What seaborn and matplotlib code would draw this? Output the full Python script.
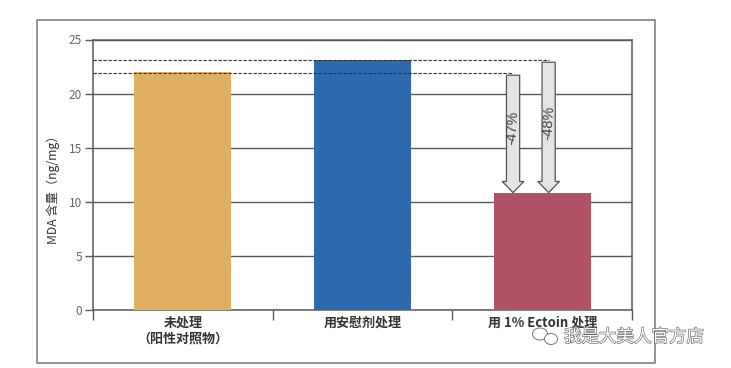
import matplotlib
matplotlib.use("Agg")
import matplotlib.pyplot as plt
import matplotlib.patheffects as pe
from matplotlib.patches import Rectangle, Ellipse
import pandas as pd
import seaborn as sns

# === DATA ===
categories = ["未处理\n（阳性对照物）", "用安慰剂处理", "用 1% Ectoin 处理"]
mda_values = [22.0, 23.15, 10.85]
bar_colors = ["#E0B062", "#2D69AF", "#B05263"]
y_ticks = [0, 5, 10, 15, 20, 25]
arrow_labels = ["-47%", "-48%"]
arrow_from = [21.7, 22.9]
arrow_x = [1.838, 2.036]
arrow_text_y = [16.8, 17.3]
dash_levels = [21.9, 23.1]
dash_ends = [1.84, 2.04]

sns.set_style("white")
plt.rcParams['font.family'] = ['Noto Sans CJK SC', 'DejaVu Sans']
GRAY = "#5a5a5a"

fig = plt.figure(figsize=(7.31, 3.68), dpi=100)
ax = fig.add_axes([93/731, 1 - 310/368, 539/731, 270.5/368])

df = pd.DataFrame({"cat": categories, "mda": mda_values})
sns.barplot(data=df, x="cat", y="mda", hue="cat", palette=bar_colors, legend=False,
            width=0.54, saturation=1, edgecolor="none", linewidth=0, ax=ax, zorder=3)

ax.set_xlim(-0.5, 2.5)
ax.set_ylim(0, 25)
ax.set_xlabel("")
ax.set_ylabel("")
fig.text(53/731, 1 - 187/368, "MDA 含量（ng/mg）", rotation=90, fontsize=8.8, color="#333333",
         ha='center', va='center')

# grid behind the bars
ax.set_yticks(y_ticks)
ax.grid(axis='y', color=GRAY, lw=1.0, zorder=1)
ax.set_axisbelow(True)
ax.tick_params(axis='y', left=True, length=6, width=1.0, color=GRAY, labelsize=8.5, labelcolor="#666666", pad=2)

# separators as major ticks, names on minor ticks
ax.set_xticks([-0.5, 0.5, 1.5, 2.5], labels=[])
ax.set_xticks([0, 1, 2], labels=categories, minor=True)
ax.tick_params(axis='x', which='major', bottom=True, length=7, width=1.0, color=GRAY)
ax.tick_params(axis='x', which='minor', bottom=False, labelsize=9.4, labelcolor="#333333", pad=2)
for lab in ax.get_xticklabels(minor=True):
    lab.set_fontweight('bold')
    lab.set_linespacing(1.2)

for s in ax.spines.values():
    s.set_visible(True)
    s.set_color(GRAY)
    s.set_linewidth(1.1)

# dashed reference levels
for lev, end in zip(dash_levels, dash_ends):
    ax.plot([-0.5, end], [lev, lev], color="#333333", lw=0.8, ls=(0, (3, 1.5)), zorder=4)

# reduction arrows
for x, start, ty, lab in zip(arrow_x, arrow_from, arrow_text_y, arrow_labels):
    ax.annotate("", xy=(x, mda_values[2]), xytext=(x, start), zorder=5,
                arrowprops=dict(width=9.5, headwidth=15.5, headlength=8, shrink=0,
                                facecolor="#E4E4E4", edgecolor="#555555", lw=0.9))
    ax.text(x, ty, lab, rotation=86, ha='center', va='center', fontsize=10.5,
            family='Liberation Sans', color="#444444", zorder=6)

# outer frame
fig.add_artist(Rectangle((36.5/731, 1 - 363/368), 618.5/731, 343/368, fill=False,
                         edgecolor="#777777", lw=1.1, transform=fig.transFigure))

# watermark
fig.text(564/731, 1 - 337/368, "我是大美人官方店", fontsize=12.6, color="white", va='center',
         path_effects=[pe.withStroke(linewidth=0.9, foreground="#666666")], zorder=10)
for cx, cy, w, h in [(540, 334, 15, 12), (551, 339, 13, 11)]:
    fig.add_artist(Ellipse((cx/731, 1 - cy/368), w/731, h/368, facecolor="white",
                           edgecolor="#777777", lw=0.7, transform=fig.transFigure, zorder=10))

fig.savefig("out.png", dpi=100)
